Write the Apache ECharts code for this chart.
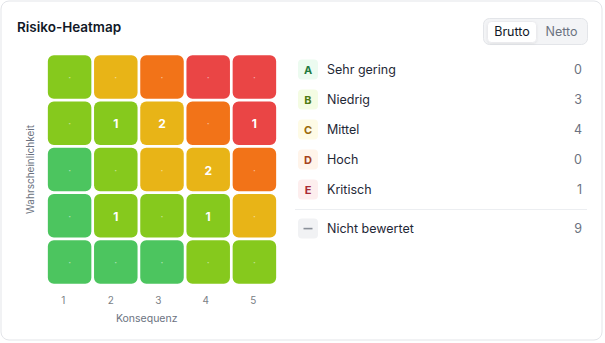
<!DOCTYPE html>
<html>
<head>
<meta charset="utf-8">
<script src="https://cdn.jsdelivr.net/npm/echarts@6/dist/echarts.min.js"></script>
<style>
  html, body { margin: 0; padding: 0; background: #ffffff; }
  #chart { width: 605px; height: 343px; }
</style>
</head>
<body>
<div id="chart"></div>
<script>
// ---- data ----
const consequences = ['1', '2', '3', '4', '5'];
const probabilities = ['1', '2', '3', '4', '5'];
// rows from probability 5 (top) down to 1 (bottom), columns consequence 1..5
const riskCounts = [
  [0, 0, 0, 0, 0],
  [0, 1, 2, 0, 1],
  [0, 0, 0, 2, 0],
  [0, 1, 0, 1, 0],
  [0, 0, 0, 0, 0]
];
const riskLevels = [
  ['B', 'C', 'D', 'E', 'E'],
  ['B', 'B', 'C', 'D', 'E'],
  ['A', 'B', 'C', 'C', 'D'],
  ['A', 'B', 'B', 'B', 'C'],
  ['A', 'A', 'A', 'B', 'B']
];
const levelKeys = ['A', 'B', 'C', 'D', 'E'];
const levelNames = ['Sehr gering', 'Niedrig', 'Mittel', 'Hoch', 'Kritisch'];
const levelCounts = [0, 3, 4, 0, 1];
const unratedName = 'Nicht bewertet';
const unratedCount = 9;
const toggleLabels = ['Brutto', 'Netto'];

// ---- styles ----
const cellColors = { A: '#4cc55f', B: '#86c91d', C: '#e8b417', D: '#f27318', E: '#ea4545' };
const badgeBg = { A: '#ecfbf0', B: '#f4fce3', C: '#fefbe6', D: '#fff4ea', E: '#fdeeee' };
const badgeFg = { A: '#1f7a3e', B: '#4f7a12', C: '#9a6a0c', D: '#a5431a', E: '#a82a35' };
const FONT = 'Inter, "Noto Sans", sans-serif';

const cellData = [];
riskCounts.forEach((row, r) => {
  row.forEach((v, c) => {
    const yIdx = probabilities.length - 1 - r;
    cellData.push([c, yIdx, v, riskLevels[r][c]]);
  });
});

const graphics = [];
// card
graphics.push({ type: 'rect', shape: { x: 1, y: 1, width: 601, height: 339, r: 8 },
  style: { fill: '#ffffff', stroke: '#e3e5e9', lineWidth: 1 }, z: -10 });
// title
graphics.push({ type: 'text', x: 17, y: 27, style: { text: 'Risiko-Heatmap', font: '600 13.5px ' + FONT,
  fill: '#111827', textVerticalAlign: 'middle' } });
// toggle
graphics.push({ type: 'rect', shape: { x: 483.5, y: 18.5, width: 104, height: 26, r: 6 },
  style: { fill: '#f3f4f6', stroke: '#e3e5e9', lineWidth: 1 } });
graphics.push({ type: 'rect', shape: { x: 487.5, y: 21.5, width: 49, height: 21, r: 4 },
  style: { fill: '#ffffff', stroke: '#e8e9ec', lineWidth: 0.8, shadowBlur: 2, shadowColor: 'rgba(0,0,0,0.08)', shadowOffsetY: 1 } });
graphics.push({ type: 'text', x: 512, y: 31.5, style: { text: toggleLabels[0], font: '400 12.5px ' + FONT,
  fill: '#111827', textAlign: 'center', textVerticalAlign: 'middle' } });
graphics.push({ type: 'text', x: 561.5, y: 31.5, style: { text: toggleLabels[1], font: '400 12.5px ' + FONT,
  fill: '#6b7280', textAlign: 'center', textVerticalAlign: 'middle' } });
// legend
levelKeys.forEach((k, i) => {
  const cy = 69.5 + i * 30;
  graphics.push({ type: 'rect', shape: { x: 298, y: cy - 10, width: 20, height: 20, r: 4 },
    style: { fill: badgeBg[k] } });
  graphics.push({ type: 'text', x: 308, y: cy, style: { text: k, font: '700 11px ' + FONT,
    fill: badgeFg[k], textAlign: 'center', textVerticalAlign: 'middle' } });
  graphics.push({ type: 'text', x: 327, y: cy, style: { text: levelNames[i], font: '400 12.5px ' + FONT,
    fill: '#1f2937', textVerticalAlign: 'middle' } });
  graphics.push({ type: 'text', x: 582, y: cy, style: { text: String(levelCounts[i]), font: '400 12.5px ' + FONT,
    fill: '#6b7280', textAlign: 'right', textVerticalAlign: 'middle' } });
});
graphics.push({ type: 'line', shape: { x1: 295, y1: 209.5, x2: 587, y2: 209.5 },
  style: { stroke: '#eceef1', lineWidth: 1 } });
graphics.push({ type: 'rect', shape: { x: 298, y: 218.5, width: 20, height: 20, r: 4 },
  style: { fill: '#f1f2f4' } });
graphics.push({ type: 'rect', shape: { x: 303.5, y: 227.8, width: 9, height: 1.6 },
  style: { fill: '#8a9099' } });
graphics.push({ type: 'text', x: 327, y: 228.5, style: { text: unratedName, font: '400 12.5px ' + FONT,
  fill: '#1f2937', textVerticalAlign: 'middle' } });
graphics.push({ type: 'text', x: 582, y: 228.5, style: { text: String(unratedCount), font: '400 12.5px ' + FONT,
  fill: '#6b7280', textAlign: 'right', textVerticalAlign: 'middle' } });
// x axis name
graphics.push({ type: 'text', x: 146.7, y: 318, style: { text: 'Konsequenz', font: '400 10.5px ' + FONT,
  fill: '#6b7280', textAlign: 'center', textVerticalAlign: 'middle' } });

const chart = echarts.init(document.getElementById('chart'), null, { renderer: 'svg' });
chart.setOption({
  animation: false,
  textStyle: { fontFamily: FONT },
  grid: [
    { left: 46.5, top: 54, width: 231, height: 231 },
    { left: 39.5, top: 54, width: 237.5, height: 231 }
  ],
  xAxis: [
    { type: 'category', data: consequences, gridIndex: 0, axisLine: { show: false },
      axisTick: { show: false }, axisLabel: { show: false }, splitLine: { show: false } },
    { type: 'category', data: consequences, gridIndex: 1, axisLine: { show: false },
      axisTick: { show: false }, axisLabel: { show: true, color: '#7b7f86', fontSize: 10, margin: 10 },
      splitLine: { show: false } }
  ],
  yAxis: [
    { type: 'category', data: probabilities, gridIndex: 0, axisLine: { show: false },
      axisTick: { show: false }, axisLabel: { show: false }, splitLine: { show: false },
      name: 'Wahrscheinlichkeit', nameLocation: 'middle', nameGap: 12,
      nameTextStyle: { color: '#6b7280', fontSize: 10 } },
    { type: 'category', data: probabilities, gridIndex: 1, show: false }
  ],
  graphic: graphics,
  series: [{
    type: 'custom',
    xAxisIndex: 0,
    yAxisIndex: 0,
    data: cellData,
    renderItem: function (params, api) {
      const c = api.coord([api.value(0), api.value(1)]);
      const s = api.size([1, 1]);
      const gap = 2.7;
      const w = s[0] - gap, h = s[1] - gap;
      const v = api.value(2);
      const lvl = cellData[params.dataIndex][3];
      return {
        type: 'group',
        children: [
          { type: 'rect', shape: { x: c[0] - w / 2, y: c[1] - h / 2, width: w, height: h, r: 6 },
            style: { fill: cellColors[lvl] } },
          { type: 'text', x: c[0], y: c[1] + (v ? 0.5 : 0),
            style: { text: v ? String(v) : '·', font: (v ? '700 12px ' : '400 10px ') + FONT,
              fill: v ? '#ffffff' : 'rgba(255,255,255,0.55)', textAlign: 'center', textVerticalAlign: 'middle' } }
        ]
      };
    }
  }]
});
</script>
</body>
</html>
